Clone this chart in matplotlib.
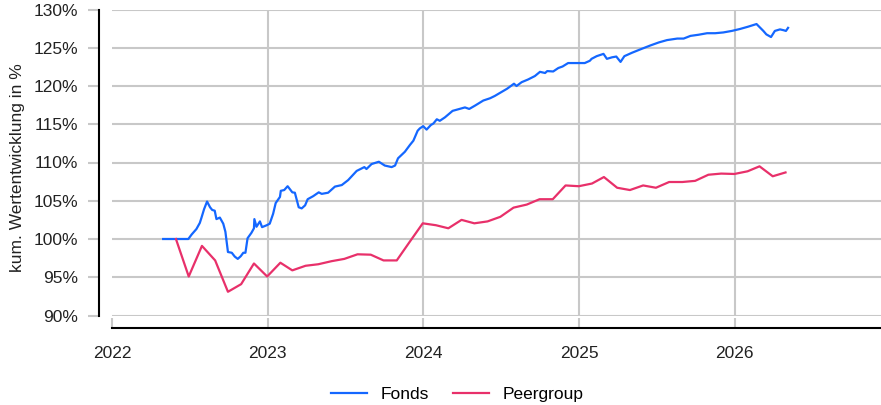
import pandas as pd
import matplotlib
matplotlib.use("Agg")
import matplotlib.pyplot as plt
from matplotlib.ticker import FuncFormatter
from matplotlib.lines import Line2D

plt.rcParams['font.family'] = ['Liberation Sans', 'DejaVu Sans']

# Fonds, kumulierte Wertentwicklung
fonds_dates = [
    "2022-05-01", "2022-06-29", "2022-07-07", "2022-07-18", "2022-07-26", "2022-07-30",
    "2022-08-05", "2022-08-12", "2022-08-19", "2022-08-24", "2022-08-30", "2022-09-03",
    "2022-09-11", "2022-09-19", "2022-09-24", "2022-09-30", "2022-10-09", "2022-10-16",
    "2022-10-23", "2022-10-30", "2022-11-05", "2022-11-10", "2022-11-15", "2022-11-24",
    "2022-11-30", "2022-12-01", "2022-12-06", "2022-12-14", "2022-12-19", "2022-12-30",
    "2023-01-06", "2023-01-14", "2023-01-20", "2023-01-30", "2023-02-01", "2023-02-09",
    "2023-02-17", "2023-02-28", "2023-03-06", "2023-03-15", "2023-03-22", "2023-03-30",
    "2023-04-05", "2023-04-18", "2023-05-01", "2023-05-08", "2023-05-23", "2023-06-08",
    "2023-06-24", "2023-07-09", "2023-07-29", "2023-08-16", "2023-08-21", "2023-09-02",
    "2023-09-19", "2023-10-03", "2023-10-19", "2023-10-27", "2023-11-03", "2023-11-19",
    "2023-12-01", "2023-12-09", "2023-12-19", "2023-12-24", "2024-01-01", "2024-01-09",
    "2024-01-19", "2024-01-25", "2024-02-02", "2024-02-09", "2024-02-21", "2024-03-10",
    "2024-03-26", "2024-04-08", "2024-04-18", "2024-05-02", "2024-05-21", "2024-06-06",
    "2024-06-17", "2024-06-29", "2024-07-16", "2024-08-01", "2024-08-07", "2024-08-19",
    "2024-09-03", "2024-09-19", "2024-10-01", "2024-10-13", "2024-10-18", "2024-11-01",
    "2024-11-13", "2024-11-23", "2024-12-06", "2024-12-26", "2025-01-14", "2025-01-26",
    "2025-01-30", "2025-02-11", "2025-02-27", "2025-03-07", "2025-03-19", "2025-03-29",
    "2025-04-08", "2025-04-17", "2025-05-05", "2025-05-25", "2025-06-17", "2025-07-07",
    "2025-07-26", "2025-08-19", "2025-09-03", "2025-09-19", "2025-10-08", "2025-10-28",
    "2025-11-16", "2025-12-05", "2025-12-25", "2026-01-13", "2026-02-01", "2026-02-21",
    "2026-03-09", "2026-03-16", "2026-03-27", "2026-04-05", "2026-04-17", "2026-04-25",
    "2026-05-01", "2026-05-06",
]
fonds_values = [
    100.0, 100.0, 100.6, 101.3, 102.1, 102.8,
    103.9, 104.9, 104.15, 103.8, 103.7, 102.6,
    102.8, 102.0, 100.95, 98.3, 98.2, 97.7,
    97.4, 97.75, 98.2, 98.2, 100.1, 100.8,
    101.4, 102.6, 101.6, 102.3, 101.55, 101.8,
    102.0, 103.3, 104.7, 105.5, 106.3, 106.4,
    106.9, 106.1, 106.05, 104.15, 104.0, 104.4,
    105.2, 105.6, 106.1, 105.9, 106.05, 106.85,
    107.05, 107.7, 108.9, 109.4, 109.15, 109.8,
    110.1, 109.6, 109.4, 109.6, 110.55, 111.4,
    112.3, 112.85, 114.15, 114.45, 114.75, 114.3,
    114.9, 115.1, 115.65, 115.45, 115.9, 116.75,
    117.0, 117.2, 117.0, 117.45, 118.1, 118.4,
    118.7, 119.1, 119.65, 120.3, 120.0, 120.5,
    120.85, 121.3, 121.85, 121.7, 121.95, 121.9,
    122.35, 122.55, 123.0, 123.0, 123.0, 123.3,
    123.55, 123.9, 124.2, 123.55, 123.75, 123.85,
    123.15, 123.9, 124.35, 124.8, 125.3, 125.7,
    126.0, 126.2, 126.2, 126.55, 126.7, 126.9,
    126.9, 127.0, 127.2, 127.45, 127.75, 128.1,
    127.2, 126.75, 126.4, 127.2, 127.4, 127.3,
    127.2, 127.6,
]

# Peergroup, Monatsende
peer_dates = pd.date_range("2022-05-31", "2026-04-30", freq="ME")
peer_values = [
    100.0, 95.1, 99.1, 97.2, 93.1, 94.1, 96.8, 95.1,
    96.9, 95.9, 96.5, 96.7, 97.1, 97.4, 98.0, 97.95, 97.2, 97.2, 99.6, 102.05,
    101.8, 101.4, 102.5, 102.05, 102.3, 102.9, 104.1, 104.5, 105.2, 105.2, 107.0, 106.9,
    107.25, 108.1, 106.7, 106.4, 107.0, 106.7, 107.45, 107.45, 107.6, 108.4, 108.55, 108.5,
    108.85, 109.5, 108.2, 108.7,
]

year_ticks = ["2022", "2023", "2024", "2025", "2026"]
y_ticks = [90, 95, 100, 105, 110, 115, 120, 125, 130]

blue = "#1467ff"
pink = "#e8306a"
grid_col = "#c8c8c8"

fig = plt.figure(figsize=(8.81, 4.05), dpi=100)
ax = fig.add_axes([112 / 881, 1 - 315.5 / 405, 769 / 881, 306 / 405])

ax.plot(pd.to_datetime(fonds_dates), fonds_values, color=blue, lw=1.6, zorder=3)
ax.plot(peer_dates, peer_values, color=pink, lw=1.6, zorder=3)

ax.set_xlim(pd.Timestamp("2022-01-01"), pd.Timestamp("2026-12-10"))
ax.set_ylim(90, 130)

xt = pd.to_datetime(year_ticks)
ax.set_xticks(xt)
ax.set_xticklabels(year_ticks)
ax.set_yticks(y_ticks)
ax.yaxis.set_major_formatter(FuncFormatter(lambda v, p: f"{v:.0f}%"))

# grid
ax.yaxis.grid(True, color=grid_col, lw=1.5)
for d in xt[1:]:
    ax.axvline(d, color=grid_col, lw=1.5, zorder=1)
ax.set_axisbelow(True)

for s in ["top", "right"]:
    ax.spines[s].set_visible(False)
ax.spines["left"].set_position(("outward", 9.4))
ax.spines["bottom"].set_position(("outward", 9.0))
ax.spines["left"].set_linewidth(1.5)
ax.spines["bottom"].set_linewidth(1.5)

ax.tick_params(axis="y", direction="out", length=8, width=1.5, color=grid_col,
               pad=7, labelsize=12.5, labelcolor="#222222")
ax.tick_params(axis="x", direction="in", length=7.2, width=1.5, color=grid_col,
               pad=13, labelsize=12.5, labelcolor="#222222")

fig.text(18 / 881, 1 - 168 / 405, "kum. Wertentwicklung in %", rotation=90,
         ha="center", va="center", fontsize=12.5, color="#222222")

handles = [Line2D([], [], color=blue, lw=1.6), Line2D([], [], color=pink, lw=1.6)]
fig.legend(handles, ["Fonds", "Peergroup"], loc="center",
           bbox_to_anchor=(457 / 881, 1 - 394 / 405), ncol=2, frameon=False,
           handlelength=2.1, handletextpad=0.75, columnspacing=1.4, fontsize=12.5)

fig.savefig("out.png", dpi=100)
